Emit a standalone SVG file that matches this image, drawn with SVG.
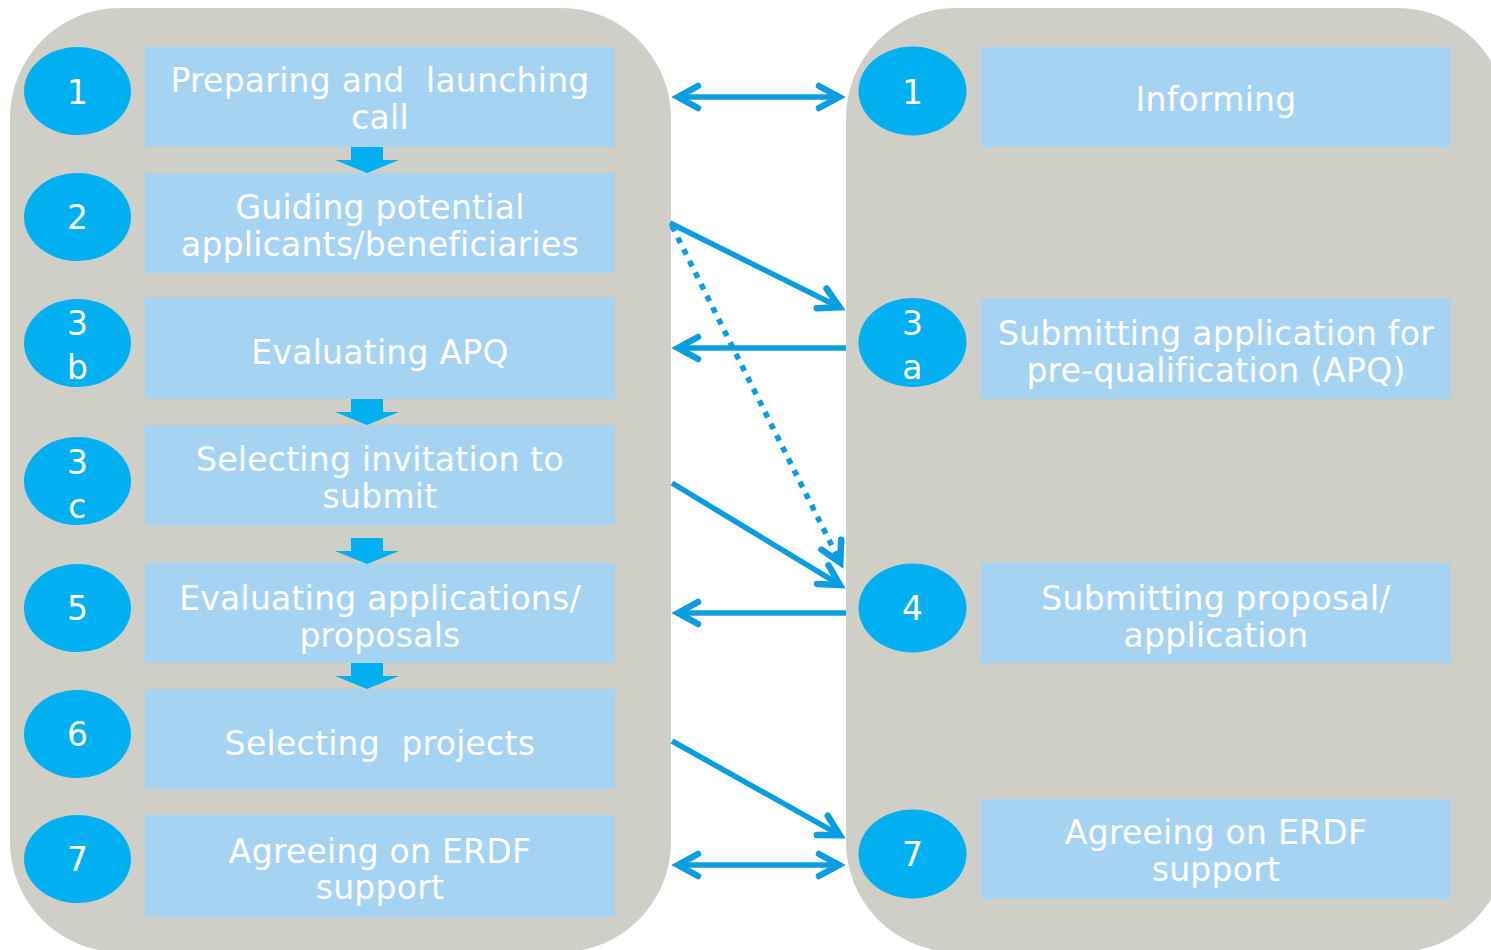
<svg xmlns="http://www.w3.org/2000/svg" width="1491" height="950" viewBox="0 0 1491 950">
  <style>
    .panel { fill: #cfcfc7; }
    .box { fill: #a7d3f3; }
    .badge { fill: #00b0f0; }
    .label { font-family: "DejaVu Sans", Verdana, sans-serif; font-size: 33px; letter-spacing: 0.25px; fill: #ffffff; text-anchor: middle; }
    .link { fill: none; stroke: #0a9ee0; stroke-width: 5.5; }
    .dotted { stroke-dasharray: 6 7; }
    .step { fill: #00b0f0; }
  </style>
  <defs>
    <marker id="head" markerUnits="userSpaceOnUse" markerWidth="40" markerHeight="40" refX="0" refY="0" orient="auto-start-reverse" overflow="visible">
      <path d="M-20,-11 L0,0 L-20,11" fill="none" stroke="#0a9ee0" stroke-width="6.5" stroke-linecap="round" stroke-linejoin="miter"/>
    </marker>
    <path id="down" d="M16,0 H48 V13 H64 L32,26 L0,13 H16 Z"/>
  </defs>

  <!-- background panels -->
  <rect class="panel" x="10" y="8" width="661" height="944" rx="110" ry="110"/>
  <rect class="panel" x="846" y="8" width="661" height="944" rx="110" ry="110"/>

  <!-- left column steps -->
  <g id="l1">
    <rect class="box" x="145" y="47" width="470" height="100"/>
    <ellipse class="badge" cx="77.5" cy="91" rx="53.5" ry="44"/>
    <text class="label" x="77.5" y="104">1</text>
    <text class="label" x="380" y="92" xml:space="preserve">Preparing and  launching</text>
    <text class="label" x="380" y="129">call</text>
  </g>
  <g id="l2">
    <rect class="box" x="145" y="173" width="470" height="100"/>
    <ellipse class="badge" cx="77.5" cy="217" rx="53.5" ry="44"/>
    <text class="label" x="77.5" y="229">2</text>
    <text class="label" x="380" y="219">Guiding potential</text>
    <text class="label" x="380" y="256">applicants/beneficiaries</text>
  </g>
  <g id="l3b">
    <rect class="box" x="145" y="297" width="470" height="102"/>
    <ellipse class="badge" cx="77.5" cy="343" rx="53.5" ry="44"/>
    <text class="label" x="77.5" y="335">3</text>
    <text class="label" x="77.5" y="379">b</text>
    <text class="label" x="380" y="364">Evaluating APQ</text>
  </g>
  <g id="l3c">
    <rect class="box" x="145" y="425" width="470" height="100"/>
    <ellipse class="badge" cx="77.5" cy="481" rx="53.5" ry="44"/>
    <text class="label" x="77.5" y="474">3</text>
    <text class="label" x="77.5" y="518">c</text>
    <text class="label" x="380" y="471">Selecting invitation to</text>
    <text class="label" x="380" y="508">submit</text>
  </g>
  <g id="l5">
    <rect class="box" x="145" y="563" width="470" height="100"/>
    <ellipse class="badge" cx="77.5" cy="608" rx="53.5" ry="44"/>
    <text class="label" x="77.5" y="620">5</text>
    <text class="label" x="380" y="610">Evaluating applications/</text>
    <text class="label" x="380" y="647">proposals</text>
  </g>
  <g id="l6">
    <rect class="box" x="145" y="689" width="470" height="100"/>
    <ellipse class="badge" cx="77.5" cy="734" rx="53.5" ry="44"/>
    <text class="label" x="77.5" y="746">6</text>
    <text class="label" x="380" y="755" xml:space="preserve">Selecting  projects</text>
  </g>
  <g id="l7">
    <rect class="box" x="145" y="815" width="470" height="102"/>
    <ellipse class="badge" cx="77.5" cy="859" rx="53.5" ry="44"/>
    <text class="label" x="77.5" y="871">7</text>
    <text class="label" x="380" y="863">Agreeing on ERDF</text>
    <text class="label" x="380" y="899">support</text>
  </g>

  <!-- right column steps -->
  <g id="r1">
    <rect class="box" x="981" y="47" width="470" height="100"/>
    <ellipse class="badge" cx="912.5" cy="91" rx="54" ry="44.5"/>
    <text class="label" x="912.5" y="104">1</text>
    <text class="label" x="1216" y="111">Informing</text>
  </g>
  <g id="r3a">
    <rect class="box" x="981" y="298" width="470" height="101"/>
    <ellipse class="badge" cx="912.5" cy="342.5" rx="54" ry="44.5"/>
    <text class="label" x="912.5" y="335">3</text>
    <text class="label" x="912.5" y="379">a</text>
    <text class="label" x="1216" y="345">Submitting application for</text>
    <text class="label" x="1216" y="382">pre-qualification (APQ)</text>
  </g>
  <g id="r4">
    <rect class="box" x="981" y="563" width="470" height="100"/>
    <ellipse class="badge" cx="912.5" cy="608" rx="54" ry="44.5"/>
    <text class="label" x="912.5" y="620">4</text>
    <text class="label" x="1216" y="610">Submitting proposal/</text>
    <text class="label" x="1216" y="647">application</text>
  </g>
  <g id="r7">
    <rect class="box" x="981" y="799" width="470" height="100"/>
    <ellipse class="badge" cx="912.5" cy="854" rx="54" ry="44.5"/>
    <text class="label" x="912.5" y="866">7</text>
    <text class="label" x="1216" y="844">Agreeing on ERDF</text>
    <text class="label" x="1216" y="881">support</text>
  </g>

  <!-- sequence arrows in the left column -->
  <g id="sequence" class="step">
    <use href="#down" x="335" y="147"/>
    <use href="#down" x="335" y="399"/>
    <use href="#down" x="335" y="538"/>
    <use href="#down" x="335" y="663"/>
  </g>

  <!-- exchanges between the two columns -->
  <g id="connectors">
    <line class="link" x1="678" y1="97" x2="839" y2="97" marker-start="url(#head)" marker-end="url(#head)"/>
    <line class="link" x1="670" y1="223" x2="839.6" y2="307.3" marker-end="url(#head)"/>
    <line class="link" x1="846" y1="348" x2="678" y2="348" marker-end="url(#head)"/>
    <line class="link dotted" x1="672" y1="226" x2="840.3" y2="562.6" marker-end="url(#head)"/>
    <line class="link" x1="672" y1="483" x2="839.9" y2="584.9" marker-end="url(#head)"/>
    <line class="link" x1="846" y1="613" x2="678" y2="613" marker-end="url(#head)"/>
    <line class="link" x1="672" y1="741" x2="839.8" y2="835.1" marker-end="url(#head)"/>
    <line class="link" x1="678" y1="865" x2="839" y2="865" marker-start="url(#head)" marker-end="url(#head)"/>
  </g>
</svg>
